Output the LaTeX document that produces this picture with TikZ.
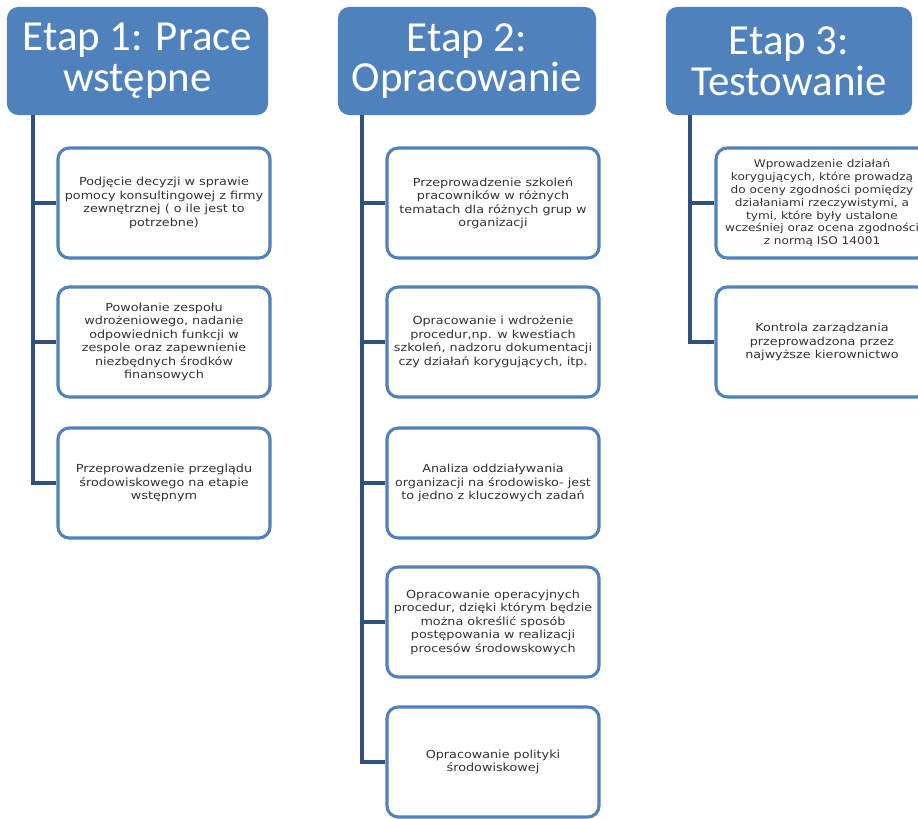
\documentclass[tikz,border=0pt]{standalone}
\usepackage{fontspec}
\setmainfont{Carlito}
\newfontfamily\krokfont[FakeStretch=1.15]{DejaVu Sans}
\usepackage{tikz}
\definecolor{etapblue}{HTML}{4F81BD}
\definecolor{linkblue}{HTML}{30507F}
\definecolor{textgray}{HTML}{333333}

\begin{document}
\begin{tikzpicture}[x=0.025cm,y=-0.025cm,
    etap/.style={fill=etapblue, rounded corners=8pt, minimum height=2.7cm, inner sep=0pt,
        text=white, align=center, font=\fontsize{30.5}{29}\selectfont},
    krok/.style={draw=etapblue, line width=2.2pt, fill=white, rounded corners=8pt,
        minimum width=5.3cm, minimum height=2.75cm, inner sep=1pt,
        text=textgray, align=center, font=\krokfont\fontsize{7.9}{9.6}\selectfont},
    laczenie/.style={draw=linkblue, line width=2.4pt}]
    \useasboundingbox (0,0) rectangle (918,819);
    % naglowki etapow
    \node[etap, minimum width=6.525cm] (h1) at (137.5,61) {Etap 1: Prace\\wstępne};
    \node[etap, minimum width=6.45cm] (h2) at (467,61) {Etap 2:\\Opracowanie};
    \node[etap, minimum width=6.15cm] (h3) at (789,61) {Etap 3:\\Testowanie};
    \coordinate (t1) at (33,115);
    \coordinate (t2) at (362,115);
    \coordinate (t3) at (690,115);
    % etap 1
    \node[krok] (k11) at (164,203) {Podjęcie decyzji w sprawie\\pomocy konsultingowej z firmy\\zewnętrznej ( o ile jest to\\potrzebne)};
    \node[krok] (k12) at (164,342) {Powołanie zespołu\\wdrożeniowego, nadanie\\odpowiednich funkcji w\\zespole oraz zapewnienie\\niezbędnych środków\\finansowych};
    \node[krok] (k13) at (164,483) {Przeprowadzenie przeglądu\\środowiskowego na etapie\\wstępnym};
    % etap 2
    \node[krok] (k21) at (493,203) {Przeprowadzenie szkoleń\\pracowników w różnych\\tematach dla różnych grup w\\organizacji};
    \node[krok] (k22) at (493,342) {Opracowanie i wdrożenie\\procedur,np. w kwestiach\\szkoleń, nadzoru dokumentacji\\czy działań korygujących, itp.};
    \node[krok] (k23) at (493,483) {Analiza oddziaływania\\organizacji na środowisko- jest\\to jedno z kluczowych zadań};
    \node[krok] (k24) at (493,622) {Opracowanie operacyjnych\\procedur, dzięki którym będzie\\można określić sposób\\postępowania w realizacji\\procesów środowskowych};
    \node[krok] (k25) at (493,762) {Opracowanie polityki\\środowiskowej};
    % etap 3
    \node[krok, font=\krokfont\fontsize{7.5}{9.1}\selectfont] (k31) at (822,203) {Wprowadzenie działań\\korygujących, które prowadzą\\do oceny zgodności pomiędzy\\działaniami rzeczywistymi, a\\tymi, które były ustalone\\wcześniej oraz ocena zgodności\\z normą ISO 14001};
    \node[krok] (k32) at (822,342) {Kontrola zarządzania\\przeprowadzona przez\\najwyższe kierownictwo};
    % polaczenia
    \draw[laczenie] (t1) |- (k11.west);
    \draw[laczenie] (t1) |- (k12.west);
    \draw[laczenie] (t1) |- (k13.west);
    \draw[laczenie] (t2) |- (k21.west);
    \draw[laczenie] (t2) |- (k22.west);
    \draw[laczenie] (t2) |- (k23.west);
    \draw[laczenie] (t2) |- (k24.west);
    \draw[laczenie] (t2) |- (k25.west);
    \draw[laczenie] (t3) |- (k31.west);
    \draw[laczenie] (t3) |- (k32.west);
\end{tikzpicture}
\end{document}
